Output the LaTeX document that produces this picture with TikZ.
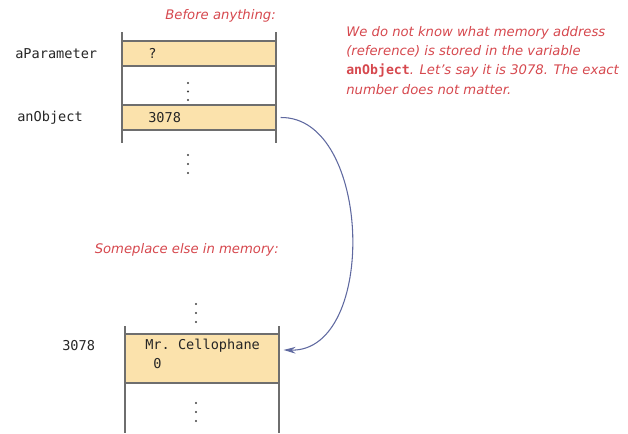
\documentclass[tikz,border=0pt]{standalone}
\usepackage{fontspec}
\setmonofont{DejaVu Sans Mono}
\newfontfamily\notefont{DejaVu Sans}
\usetikzlibrary{arrows.meta}
\definecolor{notered}{RGB}{214,72,78}
\definecolor{arrowblue}{RGB}{95,105,160}
\definecolor{cellfill}{RGB}{251,226,172}
\definecolor{linegray}{RGB}{110,110,110}
\begin{document}
\begin{tikzpicture}[x=0.75pt,y=-0.75pt,
  cell/.style={draw=linegray,line width=0.8pt,fill=cellfill,minimum width=115.5pt,inner sep=0pt},
  memline/.style={draw=linegray,line width=0.8pt},
  lbl/.style={font=\fontsize{10.2}{12}\ttfamily,text=black!85,inner sep=0pt},
  note/.style={font=\fontsize{9.9}{14.5}\notefont\itshape,text=notered,inner sep=0pt},
  memdot/.style={fill=black!75},
  ptr/.style={draw=arrowblue,line width=0.8pt,-{Stealth[length=9pt,width=5pt]}}]
\useasboundingbox (0,0) rectangle (628,433);
% top memory
\draw[memline] (122,32) -- (122,143);
\draw[memline] (276,32) -- (276,143);
\node[cell,minimum height=18.75pt] (par) at (199,53.5) {};
\node[cell,minimum height=18.75pt] (obj) at (199,117.5) {};
\node[lbl,anchor=west] (parv) at (148,53.5) {?};
\node[lbl,anchor=west] (objv) at (148,117.5) {3078};
\node[lbl,anchor=west] (parl) at (15,53.5) {aParameter};
\node[lbl,anchor=west] (objl) at (17,117.5) {anObject};
\foreach \y in {83,91.5,100} \fill[memdot] (188,\y) circle (1.1);
\foreach \y in {155,164,173} \fill[memdot] (188,\y) circle (1.1);
\node[note,anchor=east] (before) at (276,16) {Before anything:};
\node[note,anchor=north west,align=left] (expl) at (346,26)
  {We do not know what memory address\\
   (reference) is stored in the variable\\
   {\upshape\ttfamily\bfseries anObject}. Let’s say it is 3078. The exact\\
   number does not matter.};
% bottom memory
\node[note,anchor=east] (else) at (279,250) {Someplace else in memory:};
\draw[memline] (125,326) -- (125,433);
\draw[memline] (279,326) -- (279,433);
\node[cell,minimum height=36.75pt] (mr) at (202,358.5) {};
\node[lbl,anchor=west] (mrname) at (145,346) {Mr. Cellophane};
\node[lbl,anchor=west] (mrnum) at (153,363.5) {0};
\node[lbl,anchor=west] (addr) at (62,346) {3078};
\foreach \y in {304,313,322} \fill[memdot] (196,\y) circle (1.1);
\foreach \y in {403,412,421} \fill[memdot] (196,\y) circle (1.1);
% pointer
\draw[ptr] ([xshift=3pt]obj.east) .. controls (372,116) and (378,352) .. ([xshift=3pt,yshift=6.4pt]mr.east);
\end{tikzpicture}
\end{document}
